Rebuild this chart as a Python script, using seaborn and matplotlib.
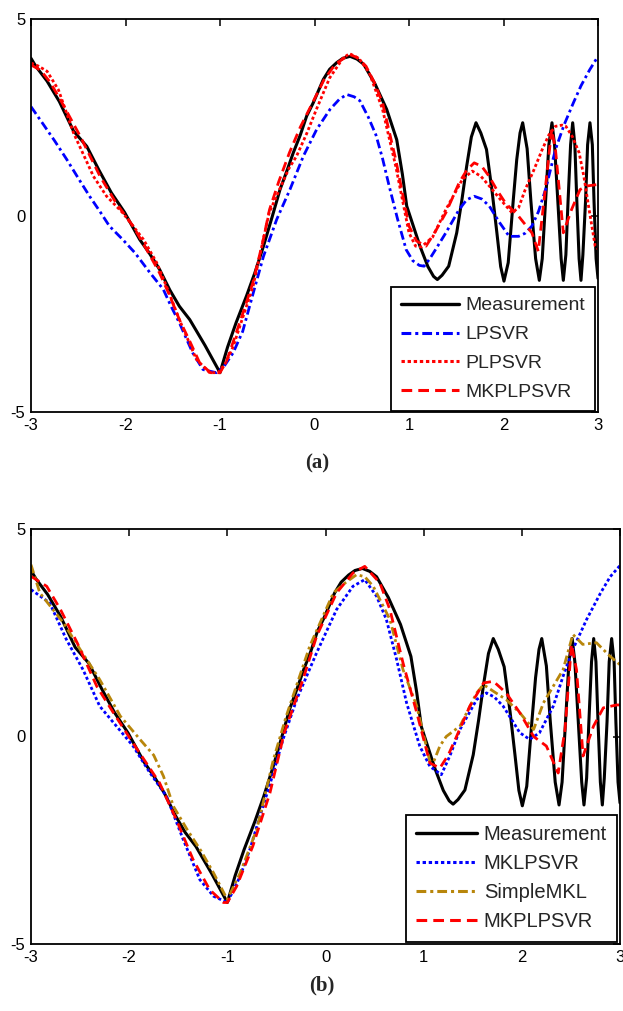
import numpy as np
import pandas as pd
import matplotlib
matplotlib.use("Agg")
import matplotlib.pyplot as plt
import seaborn as sns

# ---------------- data ----------------
meas_x = [-3.00, -2.95, -2.83, -2.70, -2.55, -2.41, -2.28, -2.15, -2.01, -1.85, -1.75, -1.64,
          -1.53, -1.43, -1.32, -1.16, -1.00, -0.92, -0.83, -0.72, -0.63, -0.54, -0.45, -0.365,
          -0.29, -0.224, -0.15, -0.083, -0.013, 0.093, 0.16, 0.235, 0.30, 0.376, 0.45, 0.52,
          0.64, 0.764, 0.87, 0.93, 0.976, 1.05, 1.116, 1.20, 1.26, 1.30, 1.35, 1.42, 1.505,
          1.56, 1.61, 1.66, 1.709, 1.76, 1.82, 1.88, 1.93, 1.97, 2.005, 2.05, 2.104, 2.14,
          2.175, 2.203, 2.25, 2.29, 2.34, 2.379, 2.41, 2.445, 2.48, 2.513, 2.54, 2.575, 2.61,
          2.633, 2.66, 2.683, 2.71, 2.732, 2.755, 2.776, 2.80, 2.82, 2.84, 2.868, 2.89, 2.915,
          2.94, 2.958, 2.98, 3.00]
meas_y = [4.00, 3.80, 3.42, 2.90, 2.15, 1.76, 1.15, 0.58, 0.08, -0.61, -0.95, -1.37,
          -1.90, -2.31, -2.65, -3.30, -4.00, -3.35, -2.73, -2.05, -1.45, -0.78, -0.05, 0.66,
          1.15, 1.60, 2.05, 2.53, 2.87, 3.46, 3.72, 3.89, 4.00, 4.05, 3.98, 3.85,
          3.35, 2.70, 1.93, 1.05, 0.24, -0.30, -0.78, -1.30, -1.55, -1.63, -1.52, -1.29, -0.44,
          0.40, 1.25, 2.00, 2.36, 2.10, 1.68, 0.60, -0.44, -1.30, -1.67, -1.20, 0.41, 1.42,
          2.10, 2.36, 1.70, 0.36, -1.10, -1.65, -1.10, 0.36, 1.80, 2.36, 1.80, 0.36, -1.10,
          -1.65, -1.00, 0.36, 1.80, 2.36, 1.80, 0.36, -1.10, -1.65, -1.00, 0.36, 1.80, 2.36,
          1.80, 0.36, -1.10, -1.60]

# (a) LPSVR
lpsvr_x = [-3.00, -2.87, -2.75, -2.62, -2.50, -2.38, -2.27, -2.17, -2.03, -1.90, -1.74, -1.60,
           -1.52, -1.43, -1.29, -1.18, -1.04, -0.96, -0.86, -0.76, -0.648, -0.54, -0.40, -0.26,
           -0.118, 0.023, 0.164, 0.26, 0.34, 0.42, 0.48, 0.57, 0.65, 0.72, 0.79, 0.88, 0.97,
           1.04, 1.11, 1.16, 1.22, 1.28, 1.39, 1.53, 1.61, 1.69, 1.77, 1.85, 1.95, 2.06, 2.16,
           2.23, 2.30, 2.37, 2.445, 2.55, 2.64, 2.74, 2.82, 2.91, 3.00]
lpsvr_y = [2.77, 2.32, 1.90, 1.42, 0.95, 0.49, 0.10, -0.27, -0.61, -0.95, -1.46, -1.88,
           -2.30, -2.73, -3.49, -3.92, -4.00, -3.85, -3.49, -2.95, -1.97, -1.04, -0.10, 0.66,
           1.51, 2.19, 2.70, 2.95, 3.08, 3.02, 2.92, 2.50, 2.05, 1.45, 0.75, -0.10, -0.87,
           -1.15, -1.27, -1.29, -1.10, -0.87, -0.44, 0.15, 0.40, 0.49, 0.42, 0.24, -0.15, -0.53, -0.53,
           -0.45, -0.27, 0.10, 0.66, 1.68, 2.30, 2.87, 3.30, 3.70, 4.05]

# (a) PLPSVR
plpsvr_x = [-3.00, -2.92, -2.83, -2.71, -2.55, -2.34, -2.20, -2.03, -1.81, -1.67, -1.55, -1.43,
            -1.25, -1.11, -1.02, -0.94, -0.86, -0.65, -0.48, -0.27, -0.19, -0.08, 0.02, 0.16,
            0.30, 0.37, 0.47, 0.58, 0.72, 0.86, 1.00, 1.07, 1.13, 1.25, 1.39, 1.565, 1.67, 1.76,
            1.85, 1.97, 2.09, 2.16, 2.23, 2.32, 2.41, 2.48, 2.55, 2.62, 2.66, 2.73, 2.80, 2.85,
            2.90, 2.97, 3.00]
plpsvr_y = [3.88, 3.80, 3.67, 3.20, 2.10, 1.00, 0.49, 0.07, -0.61, -1.20, -1.90, -2.65,
            -3.66, -4.00, -4.00, -3.75, -3.33, -1.80, 0.07, 1.20, 1.51, 2.10, 2.70, 3.50,
            4.00, 4.12, 4.00, 3.63, 2.70, 1.25, -0.44, -0.78, -0.80, -0.55, 0.15, 0.92, 1.13, 1.00,
            0.75, 0.40, 0.07, 0.20, 0.66, 1.15, 1.68, 2.05, 2.27, 2.30, 2.27, 2.00, 1.60, 1.00,
            0.24, -0.78, -0.85]

# (a) MKPLPSVR
mkpa_x = [-3.00, -2.90, -2.80, -2.69, -2.48, -2.27, -2.10, -1.92, -1.78, -1.64, -1.53, -1.43,
          -1.32, -1.215, -1.10, -1.00, -0.93, -0.864, -0.76, -0.652, -0.55, -0.476, -0.38,
          -0.265, -0.15, -0.02, 0.10, 0.22, 0.37, 0.45, 0.545, 0.63, 0.72, 0.86, 1.00, 1.08,
          1.18, 1.28, 1.39, 1.53, 1.61, 1.69, 1.77, 1.847, 1.93, 2.02, 2.16, 2.30, 2.368, 2.43,
          2.51, 2.55, 2.633, 2.72, 2.81, 2.88, 3.00]
mkpa_y = [3.83, 3.70, 3.40, 2.95, 2.02, 1.00, 0.32, -0.27, -0.85, -1.46, -2.05, -2.65,
          -3.20, -3.75, -4.00, -4.00, -3.70, -3.24, -2.50, -1.71, -0.70, 0.15, 0.85,
          1.60, 2.25, 2.87, 3.45, 3.85, 4.10, 4.02, 3.80, 3.40, 2.87, 1.42, -0.27, -0.65,
          -0.78, -0.40, 0.07, 0.83, 1.15, 1.34, 1.25, 1.00, 0.65, 0.32, -0.02, -0.44, -0.91, 0.41,
          2.19, 1.68, -0.44, 0.15, 0.66, 0.75, 0.79]

# (b) MKLPSVR
mkl_x = [-3.00, -2.81, -2.64, -2.47, -2.30, -2.13, -1.96, -1.79, -1.62, -1.45, -1.28, -1.14,
         -1.00, -0.87, -0.77, -0.668, -0.566, -0.50, -0.43, -0.294, -0.09, 0.113, 0.28, 0.40,
         0.52, 0.62, 0.724, 0.826, 0.96, 1.063, 1.18, 1.27, 1.37, 1.54, 1.64, 1.72, 1.81, 1.98,
         2.08, 2.18, 2.32, 2.42, 2.52, 2.66, 2.80, 2.90, 3.00]
mkl_y = [3.54, 3.22, 2.34, 1.61, 0.73, 0.25, -0.23, -0.87, -1.44, -2.48, -3.45, -3.85,
         -4.00, -3.37, -2.72, -1.92, -1.15, -0.62, -0.05, 0.89, 2.02, 3.06, 3.62, 3.78,
         3.38, 2.82, 1.86, 0.81, -0.23, -0.72, -0.92, -0.45, 0.17, 0.89, 1.05, 0.95, 0.73, 0.09,
         -0.07, 0.09, 0.73, 1.45, 2.10, 2.82, 3.45, 3.85, 4.12]

# (b) SimpleMKL
smkl_x = [-3.00, -2.91, -2.67, -2.50, -2.30, -2.09, -1.89, -1.75, -1.65, -1.55, -1.41, -1.27,
          -1.14, -1.00, -0.87, -0.70, -0.53, -0.40, -0.16, 0.08, 0.20, 0.317, 0.40, 0.486,
          0.656, 0.79, 0.93, 1.063, 1.10, 1.165, 1.23, 1.37, 1.54, 1.61, 1.71, 1.84, 1.98, 2.12,
          2.22, 2.32, 2.42, 2.52, 2.62, 2.76, 2.90, 3.00]
smkl_y = [4.14, 3.46, 2.74, 2.10, 1.37, 0.49, -0.07, -0.45, -0.96, -1.68, -2.24, -2.75,
          -3.29, -3.93, -3.29, -2.24, -0.55, 0.49, 2.18, 3.46, 3.70, 3.90, 3.85, 3.62,
          2.82, 1.61, 0.73, -0.60, -0.62, -0.23, 0.00, 0.25, 1.05, 1.25, 1.09, 0.89, 0.57, 0.17,
          0.81, 1.21, 1.61, 2.46, 2.22, 2.26, 1.93, 1.73]

# (b) MKPLPSVR
mkpb_x = [-3.00, -2.84, -2.70, -2.53, -2.33, -2.16, -1.96, -1.69, -1.52, -1.35, -1.18, -1.04,
          -1.00, -0.905, -0.74, -0.566, -0.42, -0.23, -0.09, 0.113, 0.28, 0.40, 0.554, 0.656,
          0.79, 0.93, 1.063, 1.165, 1.25, 1.335, 1.47, 1.61, 1.71, 1.84, 1.98, 2.12, 2.25,
          2.37, 2.44, 2.506, 2.557, 2.624, 2.73, 2.83, 2.965, 3.00]
mkpb_y = [3.86, 3.62, 3.06, 2.26, 1.21, 0.57, -0.16, -1.12, -2.00, -2.96, -3.69, -4.00,
          -4.00, -3.61, -2.64, -1.36, 0.09, 1.37, 2.42, 3.46, 3.94, 4.10, 3.70, 3.06,
          1.77, 0.57, -0.64, -0.76, -0.45, 0.00, 0.73, 1.29, 1.33, 1.05, 0.57, 0.00, -0.23,
          -0.88, 0.17, 2.22, 1.61, -0.47, 0.25, 0.69, 0.76, 0.76]

x_ticks = [-3, -2, -1, 0, 1, 2, 3]
y_ticks = [-5, 0, 5]

# ---------------- styling ----------------
sns.set_style("white")
plt.rcParams["font.family"] = ["Liberation Sans", "DejaVu Sans"]

W, H = 623, 1011
fig = plt.figure(figsize=(W / 100, H / 100), dpi=100)

ax_a = fig.add_axes([31 / W, (H - 412) / H, 567 / W, 393 / H])
ax_b = fig.add_axes([31 / W, (H - 944) / H, 589 / W, 415 / H])

BROWN = "#B8860B"
DOT = (0, (1.1, 0.9))
DASHDOT = (0, (3.2, 1.3, 1.0, 1.3))
DASH = (0, (3.5, 2.0))


def draw(ax, xs, ys, label, color, ls, lw):
    df = pd.DataFrame({"x": xs, "y": ys})
    sns.lineplot(data=df, x="x", y="y", ax=ax, color=color, linestyle=ls,
                 linewidth=lw, label=label, estimator=None, sort=False,
                 errorbar=None)


draw(ax_a, meas_x, meas_y, "Measurement", "black", "-", 2.2)
draw(ax_a, lpsvr_x, lpsvr_y, "LPSVR", "blue", DASHDOT, 2.0)
draw(ax_a, plpsvr_x, plpsvr_y, "PLPSVR", "red", DOT, 2.0)
draw(ax_a, mkpa_x, mkpa_y, "MKPLPSVR", "red", DASH, 2.0)

draw(ax_b, meas_x, meas_y, "Measurement", "black", "-", 2.2)
draw(ax_b, mkl_x, mkl_y, "MKLPSVR", "blue", DOT, 2.0)
draw(ax_b, smkl_x, smkl_y, "SimpleMKL", BROWN, DASHDOT, 2.0)
draw(ax_b, mkpb_x, mkpb_y, "MKPLPSVR", "red", DASH, 2.0)

for ax, fs, anchor, lsp in ((ax_a, 14, (0.995, 0.003), 0.58),
                            (ax_b, 14.5, (0.995, 0.006), 0.50)):
    ax.set_xlim(-3, 3)
    ax.set_ylim(-5, 5)
    ax.set_xticks(x_ticks)
    ax.set_yticks(y_ticks)
    ax.set_xticklabels([str(t) for t in x_ticks])
    ax.set_yticklabels([str(t) for t in y_ticks])
    ax.set_xlabel("")
    ax.set_ylabel("")
    ax.tick_params(direction="in", length=5, width=1.1, top=True, right=True,
                   labelsize=12, pad=4, colors="black")
    for s in ax.spines.values():
        s.set_visible(True)
        s.set_color("black")
        s.set_linewidth(1.3)
    leg = ax.legend(loc="lower right", bbox_to_anchor=anchor, borderaxespad=0,
                    fontsize=fs, frameon=True, fancybox=False, framealpha=1,
                    edgecolor="black", handlelength=3.0, handletextpad=0.35,
                    labelspacing=lsp, borderpad=0.5)
    leg.get_frame().set_linewidth(1.3)
    for ln in leg.get_lines():
        ln.set_linewidth(ln.get_linewidth() * 1.1)

fig.text(317 / W, 1 - 463 / H, "(a)", ha="center", va="center",
         family="Liberation Serif", weight="bold", fontsize=15)
fig.text(322 / W, 1 - 985 / H, "(b)", ha="center", va="center",
         family="Liberation Serif", weight="bold", fontsize=15)

fig.savefig("out.png", dpi=100)
